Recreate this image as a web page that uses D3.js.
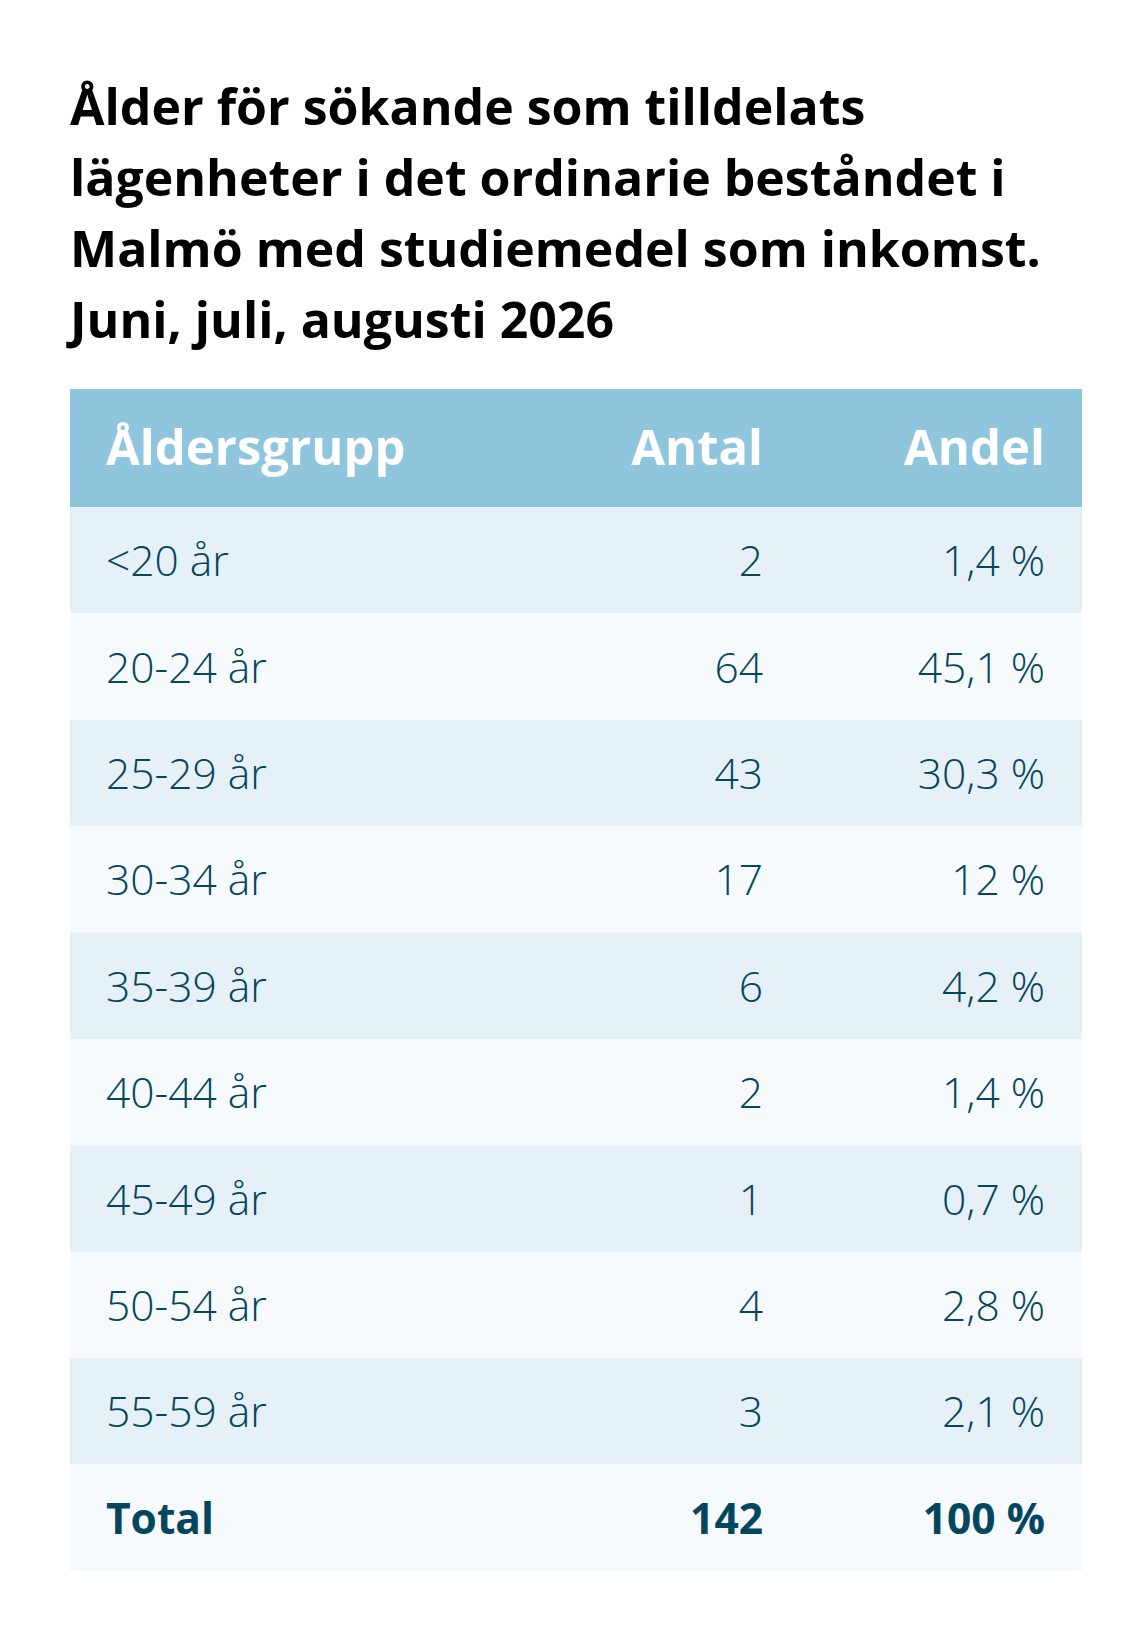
<!DOCTYPE html>
<html>
<head>
<meta charset="utf-8">
<script src="https://cdn.jsdelivr.net/npm/d3@7"></script>
<style>
  body { margin: 0; background: #fff; }
  text { font-family: "Open Sans", sans-serif; }
</style>
</head>
<body>
<div id="table"></div>
<script>
// data
var titleLines = [
    "Ålder för sökande som tilldelats",
    "lägenheter i det ordinarie beståndet i",
    "Malmö med studiemedel som inkomst.",
    "Juni, juli, augusti 2026"
];
var columns = ["Åldersgrupp", "Antal", "Andel"];
var ageGroups = ["<20 år", "20-24 år", "25-29 år", "30-34 år", "35-39 år",
                 "40-44 år", "45-49 år", "50-54 år", "55-59 år"];
var counts = [2, 64, 43, 17, 6, 2, 1, 4, 3];
var shares = [1.4, 45.1, 30.3, 12, 4.2, 1.4, 0.7, 2.8, 2.1];
var totalLabel = "Total";
var totalCount = 142;
var totalShare = 100;

function fmtShare(v) { return String(v).replace(".", ",") + " %"; }

var width = 1146, height = 1636;
var margin = {left: 70, right: 64};
var headerTop = 389, headerH = 118, bodyBottom = 1571;

var textColor = "#05465f";

var svg = d3.select("#table")
    .append("svg")
    .attr("width", width)
    .attr("height", height);

// title
svg.append("g")
    .selectAll("text")
    .data(titleLines)
    .enter().append("text")
    .attr("x", 70)
    .attr("y", function(d, i) { return 125 + i * 71; })
    .attr("font-size", 50)
    .attr("font-weight", 700)
    .attr("fill", "#000")
    .text(function(d) { return d; });

var rows = ageGroups.map(function(g, i) {
    return {label: g, count: counts[i], share: shares[i], total: false};
});
rows.push({label: totalLabel, count: totalCount, share: totalShare, total: true});

var x0 = margin.left, x1 = width - margin.right;

var y = d3.scaleBand()
    .domain(rows.map(function(d) { return d.label; }))
    .range([headerTop + headerH, bodyBottom]);

// column anchors: first left-aligned, others right-aligned
var colX = [106, 763, 1045];

// header
svg.append("rect")
    .attr("x", x0)
    .attr("y", headerTop)
    .attr("width", x1 - x0)
    .attr("height", headerH)
    .attr("fill", "#8fc5dd");

svg.append("g")
    .selectAll("text")
    .data(columns)
    .enter().append("text")
    .attr("x", function(d, i) { return colX[i]; })
    .attr("y", headerTop + headerH / 2 + 17)
    .attr("text-anchor", function(d, i) { return i === 0 ? "start" : "end"; })
    .attr("font-size", 49)
    .attr("font-weight", 700)
    .attr("fill", "#fff")
    .text(function(d) { return d; });

// body rows
var row = svg.append("g")
    .selectAll("g")
    .data(rows)
    .enter().append("g")
    .attr("transform", function(d) { return "translate(0," + y(d.label) + ")"; });

row.append("rect")
    .attr("x", x0)
    .attr("width", x1 - x0)
    .attr("height", y.bandwidth())
    .attr("fill", function(d, i) { return i % 2 === 0 ? "#e5f0f7" : "#f6fafd"; });

row.selectAll("text")
    .data(function(d) {
        return [d.label, String(d.count), fmtShare(d.share)].map(function(t) {
            return {t: t, total: d.total};
        });
    })
    .enter().append("text")
    .attr("x", function(d, i) { return colX[i]; })
    .attr("y", y.bandwidth() / 2 + 16)
    .attr("text-anchor", function(d, i) { return i === 0 ? "start" : "end"; })
    .attr("font-size", 42.5)
    .attr("font-weight", function(d) { return d.total ? 700 : 300; })
    .attr("fill", textColor)
    .text(function(d) { return d.t; });
</script>
</body>
</html>
